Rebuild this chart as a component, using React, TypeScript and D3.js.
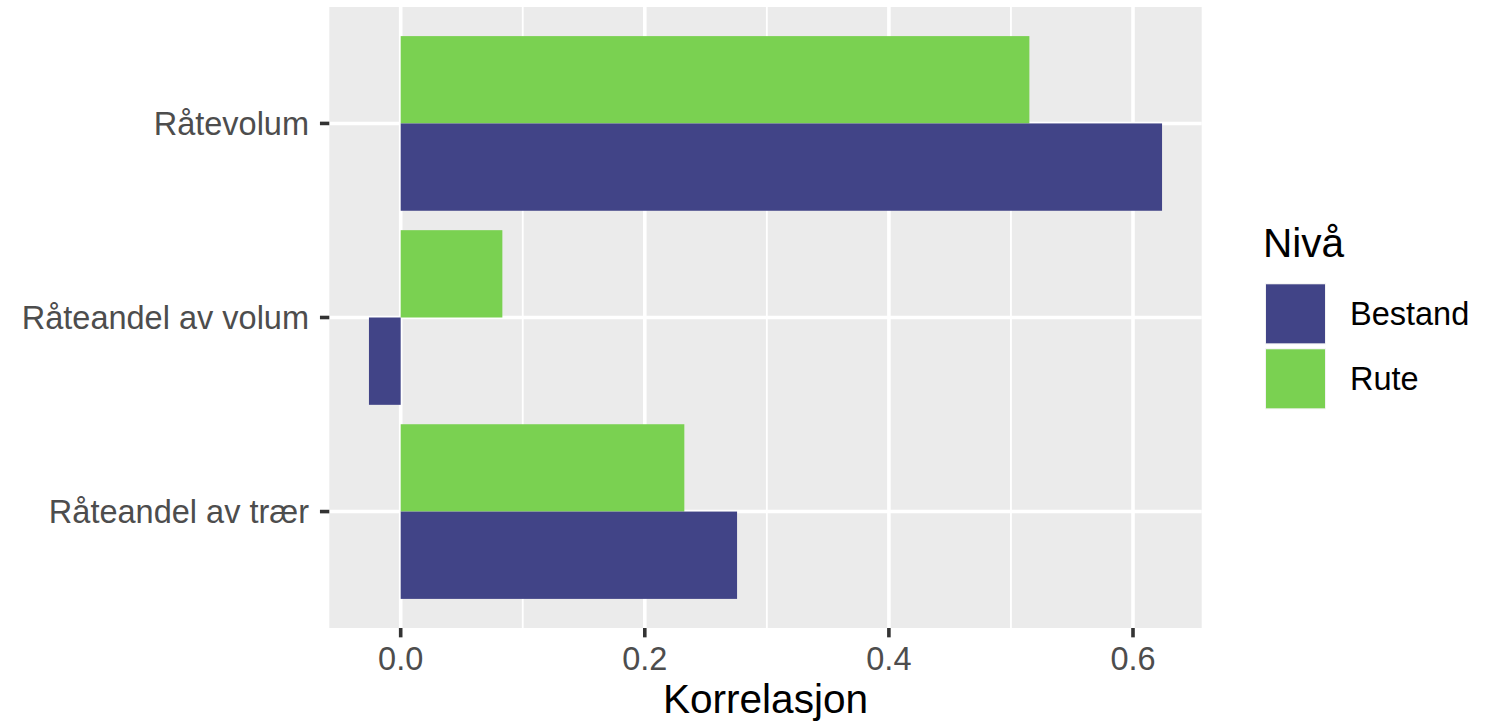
import React from "react";
import * as d3 from "d3";

const categories = ["Råtevolum", "Råteandel av volum", "Råteandel av trær"];
const groups = ["Bestand", "Rute"];
const bestandValues = [0.6238, -0.026, 0.2756];
const ruteValues = [0.5151, 0.0833, 0.2324];
const xTicks = [0.0, 0.2, 0.4, 0.6];
const xMinorTicks = [0.1, 0.3, 0.5];
const colors: Record<string, string> = { Bestand: "#414487", Rute: "#7AD151" };

const W = 1496;
const H = 722;
const panel = { left: 329.3, right: 1201.7, top: 7, bottom: 628 };
const small = 32.5;
const large = 40.6;

export default function App() {
  const all = [...bestandValues, ...ruteValues, 0];
  const lo = d3.min(all)!;
  const hi = d3.max(all)!;
  const pad = (hi - lo) * 0.05;
  const x = d3.scaleLinear().domain([lo - pad, hi + pad]).range([panel.left, panel.right]);
  const n = categories.length;
  const y = d3.scaleLinear().domain([0.4, n + 0.6]).range([panel.top, panel.bottom]);
  const unit = y(2) - y(1);
  const barH = unit * 0.45;

  const bars: { cat: string; group: string; v: number; i: number }[] = [];
  categories.forEach((c, i) => {
    bars.push({ cat: c, group: "Rute", v: ruteValues[i], i });
    bars.push({ cat: c, group: "Bestand", v: bestandValues[i], i });
  });

  const font = "Arial, 'Liberation Sans', Helvetica, sans-serif";

  return (
    <svg width={W} height={H} style={{ position: "absolute", left: 0, top: 0, background: "#fff" }} fontFamily={font}>
      <rect x={panel.left} y={panel.top} width={panel.right - panel.left} height={panel.bottom - panel.top} fill="#EBEBEB" />
      {xMinorTicks.map((t) => (
        <line key={"mn" + t} x1={x(t)} x2={x(t)} y1={panel.top} y2={panel.bottom} stroke="#fff" strokeWidth={1.8} />
      ))}
      {xTicks.map((t) => (
        <line key={"mj" + t} x1={x(t)} x2={x(t)} y1={panel.top} y2={panel.bottom} stroke="#fff" strokeWidth={3.6} />
      ))}
      {categories.map((c, i) => (
        <line key={"yg" + c} x1={panel.left} x2={panel.right} y1={y(i + 1)} y2={y(i + 1)} stroke="#fff" strokeWidth={3.6} />
      ))}
      {bars.map((b) => {
        const cy = y(b.i + 1);
        const top = b.group === "Rute" ? cy - barH : cy;
        const x0 = x(Math.min(0, b.v));
        const x1 = x(Math.max(0, b.v));
        return <rect key={b.cat + b.group} x={x0} y={top} width={x1 - x0} height={barH} fill={colors[b.group]} />;
      })}
      {categories.map((c, i) => (
        <g key={"yt" + c}>
          <line x1={panel.left - 9.35} x2={panel.left} y1={y(i + 1)} y2={y(i + 1)} stroke="#333" strokeWidth={3.6} />
          <text x={309} y={y(i + 1)} dy="0.35em" textAnchor="end" fontSize={small} fill="#4D4D4D">
            {c}
          </text>
        </g>
      ))}
      {xTicks.map((t) => (
        <g key={"xt" + t}>
          <line x1={x(t)} x2={x(t)} y1={panel.bottom} y2={panel.bottom + 9.35} stroke="#333" strokeWidth={3.6} />
          <text x={x(t)} y={670} textAnchor="middle" fontSize={small} fill="#4D4D4D">
            {d3.format(".1f")(t)}
          </text>
        </g>
      ))}
      <text x={(panel.left + panel.right) / 2} y={712.5} textAnchor="middle" fontSize={large} fill="#000">
        Korrelasjon
      </text>
      <text x={1263} y={257} fontSize={large} fill="#000">
        Nivå
      </text>
      {groups.map((g, k) => {
        const ky = 284.3 + k * 65;
        return (
          <g key={"lg" + g}>
            <rect x={1265} y={ky - 1} width={61} height={61} fill="#F2F2F2" />
            <rect x={1266} y={ky} width={59} height={59} fill={colors[g]} />
            <text x={1350} y={ky + 29.5} dy="0.35em" fontSize={small} fill="#000">
              {g}
            </text>
          </g>
        );
      })}
    </svg>
  );
}
